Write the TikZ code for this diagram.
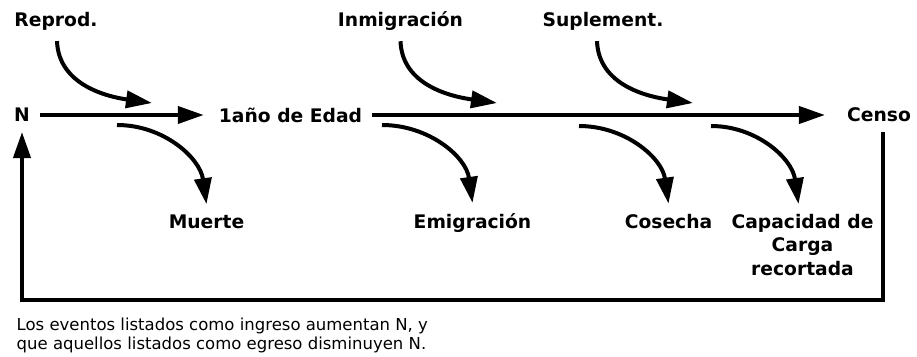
\documentclass[tikz,border=0pt]{standalone}
\usepackage{fontspec}
\setmainfont{DejaVu Sans}
\usepackage{tikz}
\usetikzlibrary{arrows.meta,positioning}
\tikzstyle{lbl} = [font=\fontsize{18.7}{23.5}\selectfont\bfseries, inner sep=10pt]
\tikzstyle{note} = [font=\fontsize{16.5}{19.5}\selectfont, inner sep=0pt, align=left]
\tikzstyle{flow} = [line width=4pt, -{Triangle[length=26pt,width=17pt]}, color=black]

\begin{document}
\begin{tikzpicture}[x=1pt, y=-1pt]
\useasboundingbox (0,0) rectangle (917,356);
% main line
\node (n) [lbl] at (22,115) {N};
\node (edad) [lbl] at (290.5,115) {1año de Edad};
\node (censo) [lbl] at (879,115) {Censo};

% inputs
\node (reprod) [lbl, anchor=base] at (56,27) {Reprod.};
\node (inmig) [lbl, anchor=base] at (400.5,27) {Inmigración};
\node (suple) [lbl, anchor=base] at (603,27) {Suplement.};

% outputs
\node (muerte) [lbl, anchor=base] at (206.5,228) {Muerte};
\node (emig) [lbl, anchor=base] at (472.5,228) {Emigración};
\node (cosecha) [lbl, anchor=base] at (668.5,228) {Cosecha};
\node (capac) [lbl, align=center, anchor=north] at (802.5,204) {Capacidad de\\Carga\\recortada};

\node (nota) [note, anchor=north west] at (16.5,317.5) {Los eventos listados como ingreso aumentan N, y\\que aquellos listados como egreso disminuyen N.};

\coordinate (in1) at (152,103);
\coordinate (in2) at (497,103);
\coordinate (in3) at (693,103);
\coordinate (out1) at (117,125);
\coordinate (out2) at (382,125);
\coordinate (out3) at (579,126);
\coordinate (out4) at (711,126);
\coordinate (esq) at (883,300);

\draw[flow, shorten >=5pt] (n) -- (edad);
\draw[flow, shorten >=12pt] (edad) -- (censo);

\draw[flow] ([xshift=1pt]reprod.south) to[out=-88, in=172] (in1);
\draw[flow] (inmig.south) to[out=-88, in=172] (in2);
\draw[flow] ([xshift=-6pt]suple.south) to[out=-88, in=172] (in3);

\draw[flow] (out1) to[out=0, in=98] (muerte.north);
\draw[flow] (out2) to[out=0, in=98] (emig.north);
\draw[flow] (out3) to[out=0, in=98] (cosecha.north);
\draw[flow] (out4) to[out=0, in=98] ([xshift=-4pt]capac.north);

% feedback
\draw[flow] (censo.south -| esq) -- (esq) -- (esq -| n) -- (n.south);
\end{tikzpicture}
\end{document}
